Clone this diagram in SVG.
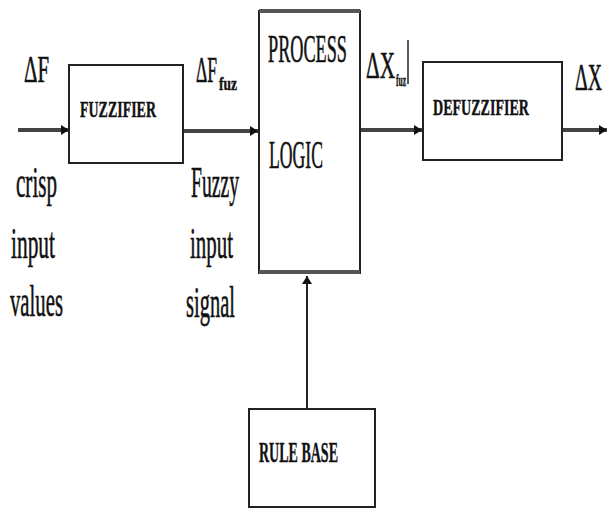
<svg xmlns="http://www.w3.org/2000/svg" width="608" height="510" viewBox="0 0 608 510">
<style>
.box{fill:#fff;stroke:#222;stroke-width:2}
.lbl{font-family:"Liberation Serif",serif;fill:#111;stroke:#111;stroke-width:0.6}
.bold{font-family:"Liberation Serif",serif;font-weight:bold;fill:#111;stroke:#111;stroke-width:0.4}
.arr{stroke:#444;stroke-width:4;fill:none}
</style>
<defs>
<marker id="ah" markerWidth="10" markerHeight="10" refX="8" refY="5" orient="auto" markerUnits="userSpaceOnUse">
<path d="M0,0 L8,5 L0,10 Z" fill="#111"/>
</marker>
</defs>
<rect width="608" height="510" fill="#fff"/>
<g id="connectors">
<line class="arr" x1="18" y1="130" x2="69" y2="130" marker-end="url(#ah)"/>
<line class="arr" x1="183" y1="131" x2="258" y2="131" marker-end="url(#ah)"/>
<line class="arr" x1="361" y1="130" x2="422" y2="130" marker-end="url(#ah)"/>
<line class="arr" x1="563" y1="130" x2="607" y2="130" marker-end="url(#ah)"/>
<line x1="307" y1="408" x2="307" y2="276" stroke="#222" stroke-width="2" marker-end="url(#ah)"/>
</g>
<g id="fuzzifier">
<rect class="box" x="69" y="65" width="114" height="98"/>
<text class="bold" x="80" y="117" font-size="24" textLength="76" lengthAdjust="spacingAndGlyphs">FUZZIFIER</text>
</g>
<g id="process">
<rect class="box" x="259" y="11" width="101" height="262"/>
<line x1="259" y1="11" x2="360" y2="11" stroke="#555" stroke-width="4"/>
<line x1="259" y1="272" x2="360" y2="272" stroke="#555" stroke-width="4"/>
<text class="lbl" x="268" y="62" font-size="40" textLength="79" lengthAdjust="spacingAndGlyphs">PROCESS</text>
<text class="lbl" x="269" y="168" font-size="40" textLength="54" lengthAdjust="spacingAndGlyphs">LOGIC</text>
</g>
<g id="defuzzifier">
<rect class="box" x="423" y="62" width="139" height="98"/>
<text class="bold" x="433" y="115" font-size="24" textLength="96" lengthAdjust="spacingAndGlyphs">DEFUZZIFIER</text>
</g>
<g id="rulebase">
<rect class="box" x="249" y="409" width="126" height="98"/>
<text class="bold" x="259" y="462" font-size="30" textLength="79" lengthAdjust="spacingAndGlyphs">RULE BASE</text>
</g>
<g id="labels">
<text class="lbl" x="24" y="82" font-size="38" textLength="25" lengthAdjust="spacingAndGlyphs">ΔF</text>
<text class="lbl" x="196" y="82" font-size="36" textLength="21" lengthAdjust="spacingAndGlyphs">ΔF</text>
<text class="bold" x="219" y="90" font-size="18" textLength="18" lengthAdjust="spacingAndGlyphs">fuz</text>
<text class="lbl" x="366" y="78" font-size="38" textLength="29" lengthAdjust="spacingAndGlyphs">ΔX</text>
<text class="bold" x="396" y="86" font-size="16" textLength="10" lengthAdjust="spacingAndGlyphs">fuz</text>
<line x1="408" y1="40" x2="408" y2="84" stroke="#222" stroke-width="1.5"/>
<text class="lbl" x="575" y="90" font-size="38" textLength="27" lengthAdjust="spacingAndGlyphs">ΔX</text>
<text class="lbl" x="16" y="197" font-size="44" textLength="41" lengthAdjust="spacingAndGlyphs">crisp</text>
<text class="lbl" x="11" y="258" font-size="44" textLength="44" lengthAdjust="spacingAndGlyphs">input</text>
<text class="lbl" x="10" y="316" font-size="44" textLength="53" lengthAdjust="spacingAndGlyphs">values</text>
<text class="lbl" x="191" y="197" font-size="44" textLength="48" lengthAdjust="spacingAndGlyphs">Fuzzy</text>
<text class="lbl" x="190" y="258" font-size="44" textLength="43" lengthAdjust="spacingAndGlyphs">input</text>
<text class="lbl" x="186" y="317" font-size="44" textLength="49" lengthAdjust="spacingAndGlyphs">signal</text>
</g>
</svg>
